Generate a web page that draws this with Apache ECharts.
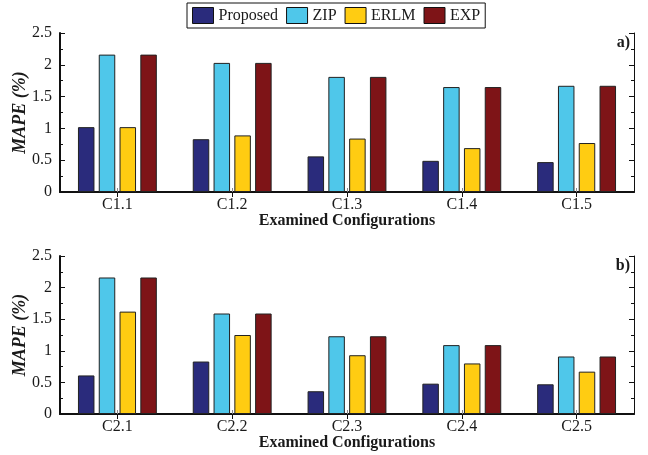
<!DOCTYPE html>
<html>
<head>
<meta charset="utf-8">
<script src="https://cdn.jsdelivr.net/npm/echarts@6/dist/echarts.min.js"></script>
<style>html,body{margin:0;padding:0;background:#fff}#c{width:648px;height:455px}</style>
</head>
<body>
<div id="c"></div>
<script>
const categoriesA = ['C1.1', 'C1.2', 'C1.3', 'C1.4', 'C1.5'];
const categoriesB = ['C2.1', 'C2.2', 'C2.3', 'C2.4', 'C2.5'];
const seriesNames = ['Proposed', 'ZIP', 'ERLM', 'EXP'];
const proposedA = [1.02, 0.83, 0.56, 0.49, 0.47];
const zipA = [2.16, 2.03, 1.81, 1.65, 1.67];
const erlmA = [1.02, 0.89, 0.84, 0.69, 0.77];
const expA = [2.16, 2.03, 1.81, 1.65, 1.67];
const proposedB = [0.61, 0.83, 0.36, 0.48, 0.47];
const zipB = [2.16, 1.59, 1.23, 1.09, 0.91];
const erlmB = [1.62, 1.25, 0.93, 0.80, 0.67];
const expB = [2.16, 1.59, 1.23, 1.09, 0.91];
const yTicks = { min: 0, max: 2.5, interval: 0.5 };
const panelLabels = ['a)', 'b)'];
const xName = 'Examined Configurations';
const yName = 'MAPE (%)';

const colors = ['#2A2B7C', '#4FC7EA', '#FFCC12', '#7E1417'];
const FONT = '"Liberation Serif", "DejaVu Serif", serif';
const TXT = '#1a1a1a';

const grids = [
  { left: 60, top: 33, width: 574, height: 159, outerBoundsMode: 'none', containLabel: false },
  { left: 60, top: 256, width: 574, height: 158, outerBoundsMode: 'none', containLabel: false }
];

function bottomX(gridIndex, cats) {
  return {
    type: 'category', gridIndex, data: cats, position: 'bottom',
    axisLine: { show: true, lineStyle: { color: '#111', width: 2 } },
    axisTick: { show: true, inside: true, alignWithLabel: true, length: 4, lineStyle: { color: '#888' } },
    axisLabel: { fontFamily: FONT, fontSize: 16, color: TXT, margin: 5 },
    name: xName, nameLocation: 'middle', nameGap: 21, nameMoveOverlap: false,
    nameTextStyle: { fontFamily: FONT, fontSize: 16, fontWeight: 'bold', color: TXT }
  };
}
function topX(gridIndex, cats) {
  return {
    type: 'category', gridIndex, data: cats, position: 'top',
    axisLine: { show: true, lineStyle: { color: '#111', width: 1 } },
    axisTick: { show: true, inside: true, alignWithLabel: true, length: 5, lineStyle: { color: '#111' } },
    axisLabel: { show: false }
  };
}
function leftY(gridIndex) {
  return {
    type: 'value', gridIndex, position: 'left', min: yTicks.min, max: yTicks.max, interval: yTicks.interval,
    splitLine: { show: false },
    axisLine: { show: true, lineStyle: { color: '#111', width: 2 } },
    axisTick: { show: true, inside: true, length: 5, lineStyle: { color: '#111' } },
    minorTick: { show: true, splitNumber: 2, length: 3, lineStyle: { color: '#111' } },
    axisLabel: { fontFamily: FONT, fontSize: 16, color: TXT, margin: 8 },
    name: yName, nameLocation: 'middle', nameGap: 31, nameRotate: 90, nameMoveOverlap: false,
    nameTextStyle: { fontFamily: FONT, fontSize: 18, fontWeight: 'bold', fontStyle: 'italic', color: TXT }
  };
}
function rightY(gridIndex) {
  return {
    type: 'value', gridIndex, position: 'right', min: yTicks.min, max: yTicks.max, interval: yTicks.interval,
    splitLine: { show: false },
    axisLine: { show: true, lineStyle: { color: '#111', width: 1 } },
    axisTick: { show: true, inside: true, length: 5, lineStyle: { color: '#111' } },
    minorTick: { show: true, splitNumber: 2, length: 3, lineStyle: { color: '#111' } },
    axisLabel: { show: false }
  };
}

const panelData = [
  [proposedA, zipA, erlmA, expA],
  [proposedB, zipB, erlmB, expB]
];
const series = [];
panelData.forEach((vals, p) => {
  vals.forEach((arr, i) => {
    series.push({
      type: 'bar', name: seriesNames[i], data: arr,
      xAxisIndex: p * 2, yAxisIndex: p * 2,
      barWidth: 16.5, barGap: '26%',
      itemStyle: { color: colors[i], borderColor: '#222', borderWidth: 1 },
      emphasis: { disabled: true }
    });
  });
});

const chart = echarts.init(document.getElementById('c'), null, { renderer: 'canvas' });
chart.setOption({
  animation: false,
  color: colors,
  title: [
    { text: panelLabels[0], right: 18, top: 35, padding: 0, textStyle: { fontFamily: FONT, fontSize: 16, fontWeight: 'bold', color: TXT } },
    { text: panelLabels[1], right: 18, top: 258, padding: 0, textStyle: { fontFamily: FONT, fontSize: 16, fontWeight: 'bold', color: TXT } }
  ],
  legend: {
    data: seriesNames, left: 187, top: 3, padding: [4, 5, 4, 5],
    icon: 'rect',
    itemWidth: 21, itemHeight: 16, itemGap: 8,
    borderColor: '#111', borderWidth: 1, backgroundColor: '#fff',
    textStyle: { fontFamily: FONT, fontSize: 16, color: TXT, padding: [0, 0, 0, 0] },
    itemStyle: { borderColor: '#111', borderWidth: 1 }
  },
  grid: grids,
  xAxis: [bottomX(0, categoriesA), topX(0, categoriesA), bottomX(1, categoriesB), topX(1, categoriesB)],
  yAxis: [leftY(0), rightY(0), leftY(1), rightY(1)],
  series
});
</script>
</body>
</html>
